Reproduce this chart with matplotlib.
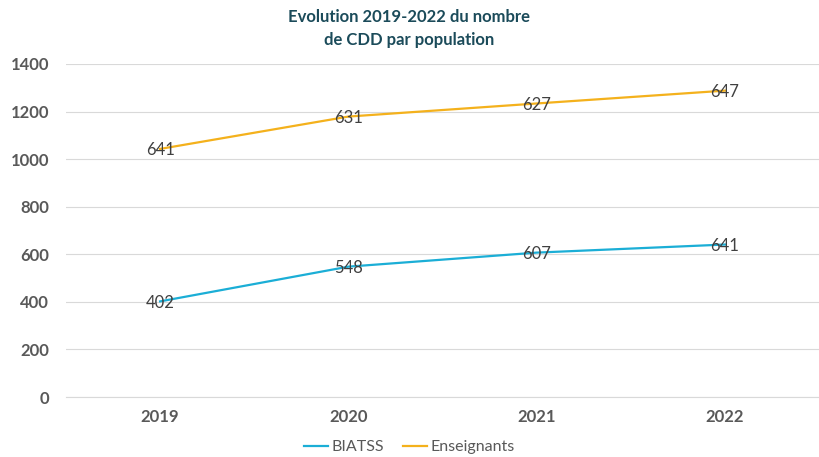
import matplotlib
matplotlib.use("Agg")
import matplotlib.pyplot as plt
import numpy as np

years = ["2019", "2020", "2021", "2022"]
biatss = [402, 548, 607, 641]
enseignants = [641, 631, 627, 647]
yticks = [0, 200, 400, 600, 800, 1000, 1200, 1400]

plt.rcParams['font.family'] = ['Lato', 'DejaVu Sans']

fig = plt.figure(figsize=(8.19, 4.57), dpi=100)
ax = fig.add_axes([66 / 819, 60 / 457, 753 / 819, 333 / 457])

x = np.arange(len(years))
b = np.array(biatss)
e_stack = b + np.array(enseignants)

blue = "#1BAED6"
orange = "#F4B11C"
ax.plot(x, b, color=blue, lw=1.6, label="BIATSS", zorder=3)
ax.plot(x, e_stack, color=orange, lw=1.6, label="Enseignants", zorder=3)

for xi, yv, lab in zip(x, b, biatss):
    ax.text(xi, yv, str(lab), ha="center", va="center_baseline", fontsize=12, color="#404040", zorder=4)
for xi, yv, lab in zip(x, e_stack, enseignants):
    ax.text(xi, yv, str(lab), ha="center", va="center_baseline", fontsize=12, color="#404040", zorder=4)

ax.set_xlim(-0.5, 3.5)
ax.set_ylim(0, 1400)
ax.set_yticks(yticks)
ax.set_xticks(x)
ax.set_xticklabels(years)
ax.grid(axis="y", color="#D9D9D9", lw=0.8)
ax.set_axisbelow(True)
for s in ["top", "right", "left"]:
    ax.spines[s].set_visible(False)
ax.spines["bottom"].set_color("#D9D9D9")
ax.tick_params(length=0, labelsize=12, colors="#595959", pad=12)
for t in ax.get_xticklabels() + ax.get_yticklabels():
    t.set_fontweight("bold")
ax.tick_params(axis="x", pad=9)

fig.text(0.5, 1 - 9 / 457, "Evolution 2019-2022 du nombre\nde CDD par population", ha="center", va="top",
         fontsize=12, fontweight="bold", color="#1B4B5A", linespacing=1.55)

leg = fig.legend(loc="center", bbox_to_anchor=(0.5, 1 - 447 / 457), ncol=2, frameon=False,
                 fontsize=11.5, handlelength=1.5, handletextpad=0.2, columnspacing=1.2)
for t in leg.get_texts():
    t.set_color("#595959")

fig.savefig("out.png", dpi=100)
